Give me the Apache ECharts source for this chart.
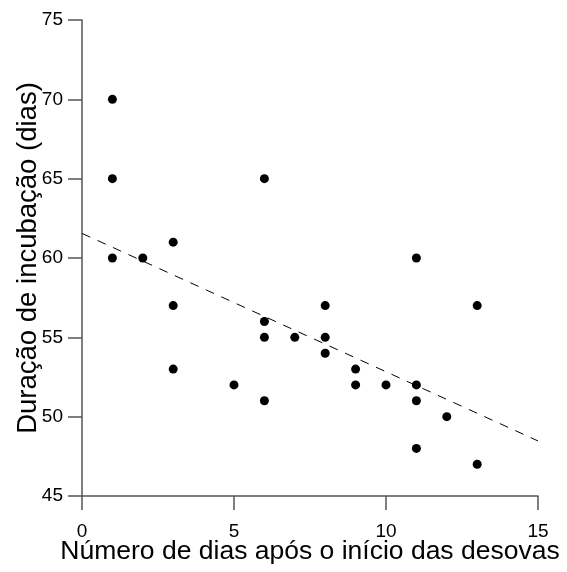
<!DOCTYPE html>
<html>
<head>
<meta charset="utf-8">
<script src="https://cdn.jsdelivr.net/npm/echarts@6/dist/echarts.min.js"></script>
<style>html,body{margin:0;padding:0;background:#fff}#c{width:567px;height:572px}</style>
</head>
<body>
<div id="c"></div>
<script>
var xValues = [1,1,1,2,3,3,3,5,6,6,6,6,7,8,8,8,9,9,10,11,11,11,11,12,13,13];
var yValues = [70,65,60,60,61,57,53,52,65,56,55,51,55,57,55,54,53,52,52,60,52,51,48,50,57,47];
var trendX = [0,15];
var trendY = [61.55,48.47];
var xTicks = [0,5,10,15];
var yTicks = [45,50,55,60,65,70,75];

var pts = xValues.map(function(x,i){return [x,yValues[i]];});
var trend = trendX.map(function(x,i){return [x,trendY[i]];});
var font = 'Liberation Sans, Arial, sans-serif';
var axisCol = '#555';

var chart = echarts.init(document.getElementById('c'), null, {renderer:'canvas'});
chart.setOption({
  animation:false,
  grid:{left:82,right:29,top:20,bottom:76,containLabel:false,outerBoundsMode:'none'},
  xAxis:{
    type:'value',min:xTicks[0],max:xTicks[xTicks.length-1],interval:5,
    name:'Número de dias após o início das desovas',nameLocation:'middle',nameGap:42,
    nameMoveOverlap:false,
    nameTextStyle:{fontFamily:font,fontSize:26.5,color:'#000'},
    axisLine:{show:true,onZero:false,lineStyle:{color:axisCol,width:1.5}},
    axisTick:{show:true,inside:false,length:14,lineStyle:{color:axisCol,width:1.5}},
    axisLabel:{fontFamily:font,fontSize:19,color:'#000',margin:26},
    splitLine:{show:false}
  },
  yAxis:{
    type:'value',min:yTicks[0],max:yTicks[yTicks.length-1],interval:5,
    name:'Duração de incubação (dias)',nameLocation:'middle',nameGap:40,
    nameMoveOverlap:false,
    nameTextStyle:{fontFamily:font,fontSize:27.5,color:'#000'},
    axisLine:{show:true,onZero:false,lineStyle:{color:axisCol,width:1.5}},
    axisTick:{show:true,inside:false,length:14,lineStyle:{color:axisCol,width:1.5}},
    axisLabel:{fontFamily:font,fontSize:19,color:'#000',margin:19},
    splitLine:{show:false}
  },
  series:[
    {type:'line',data:trend,symbol:'none',silent:true,
     lineStyle:{color:'#000',width:1,type:[9,8]}},
    {type:'scatter',data:pts,symbol:'circle',symbolSize:9,
     itemStyle:{color:'#000',opacity:1}}
  ]
});
</script>
</body>
</html>
